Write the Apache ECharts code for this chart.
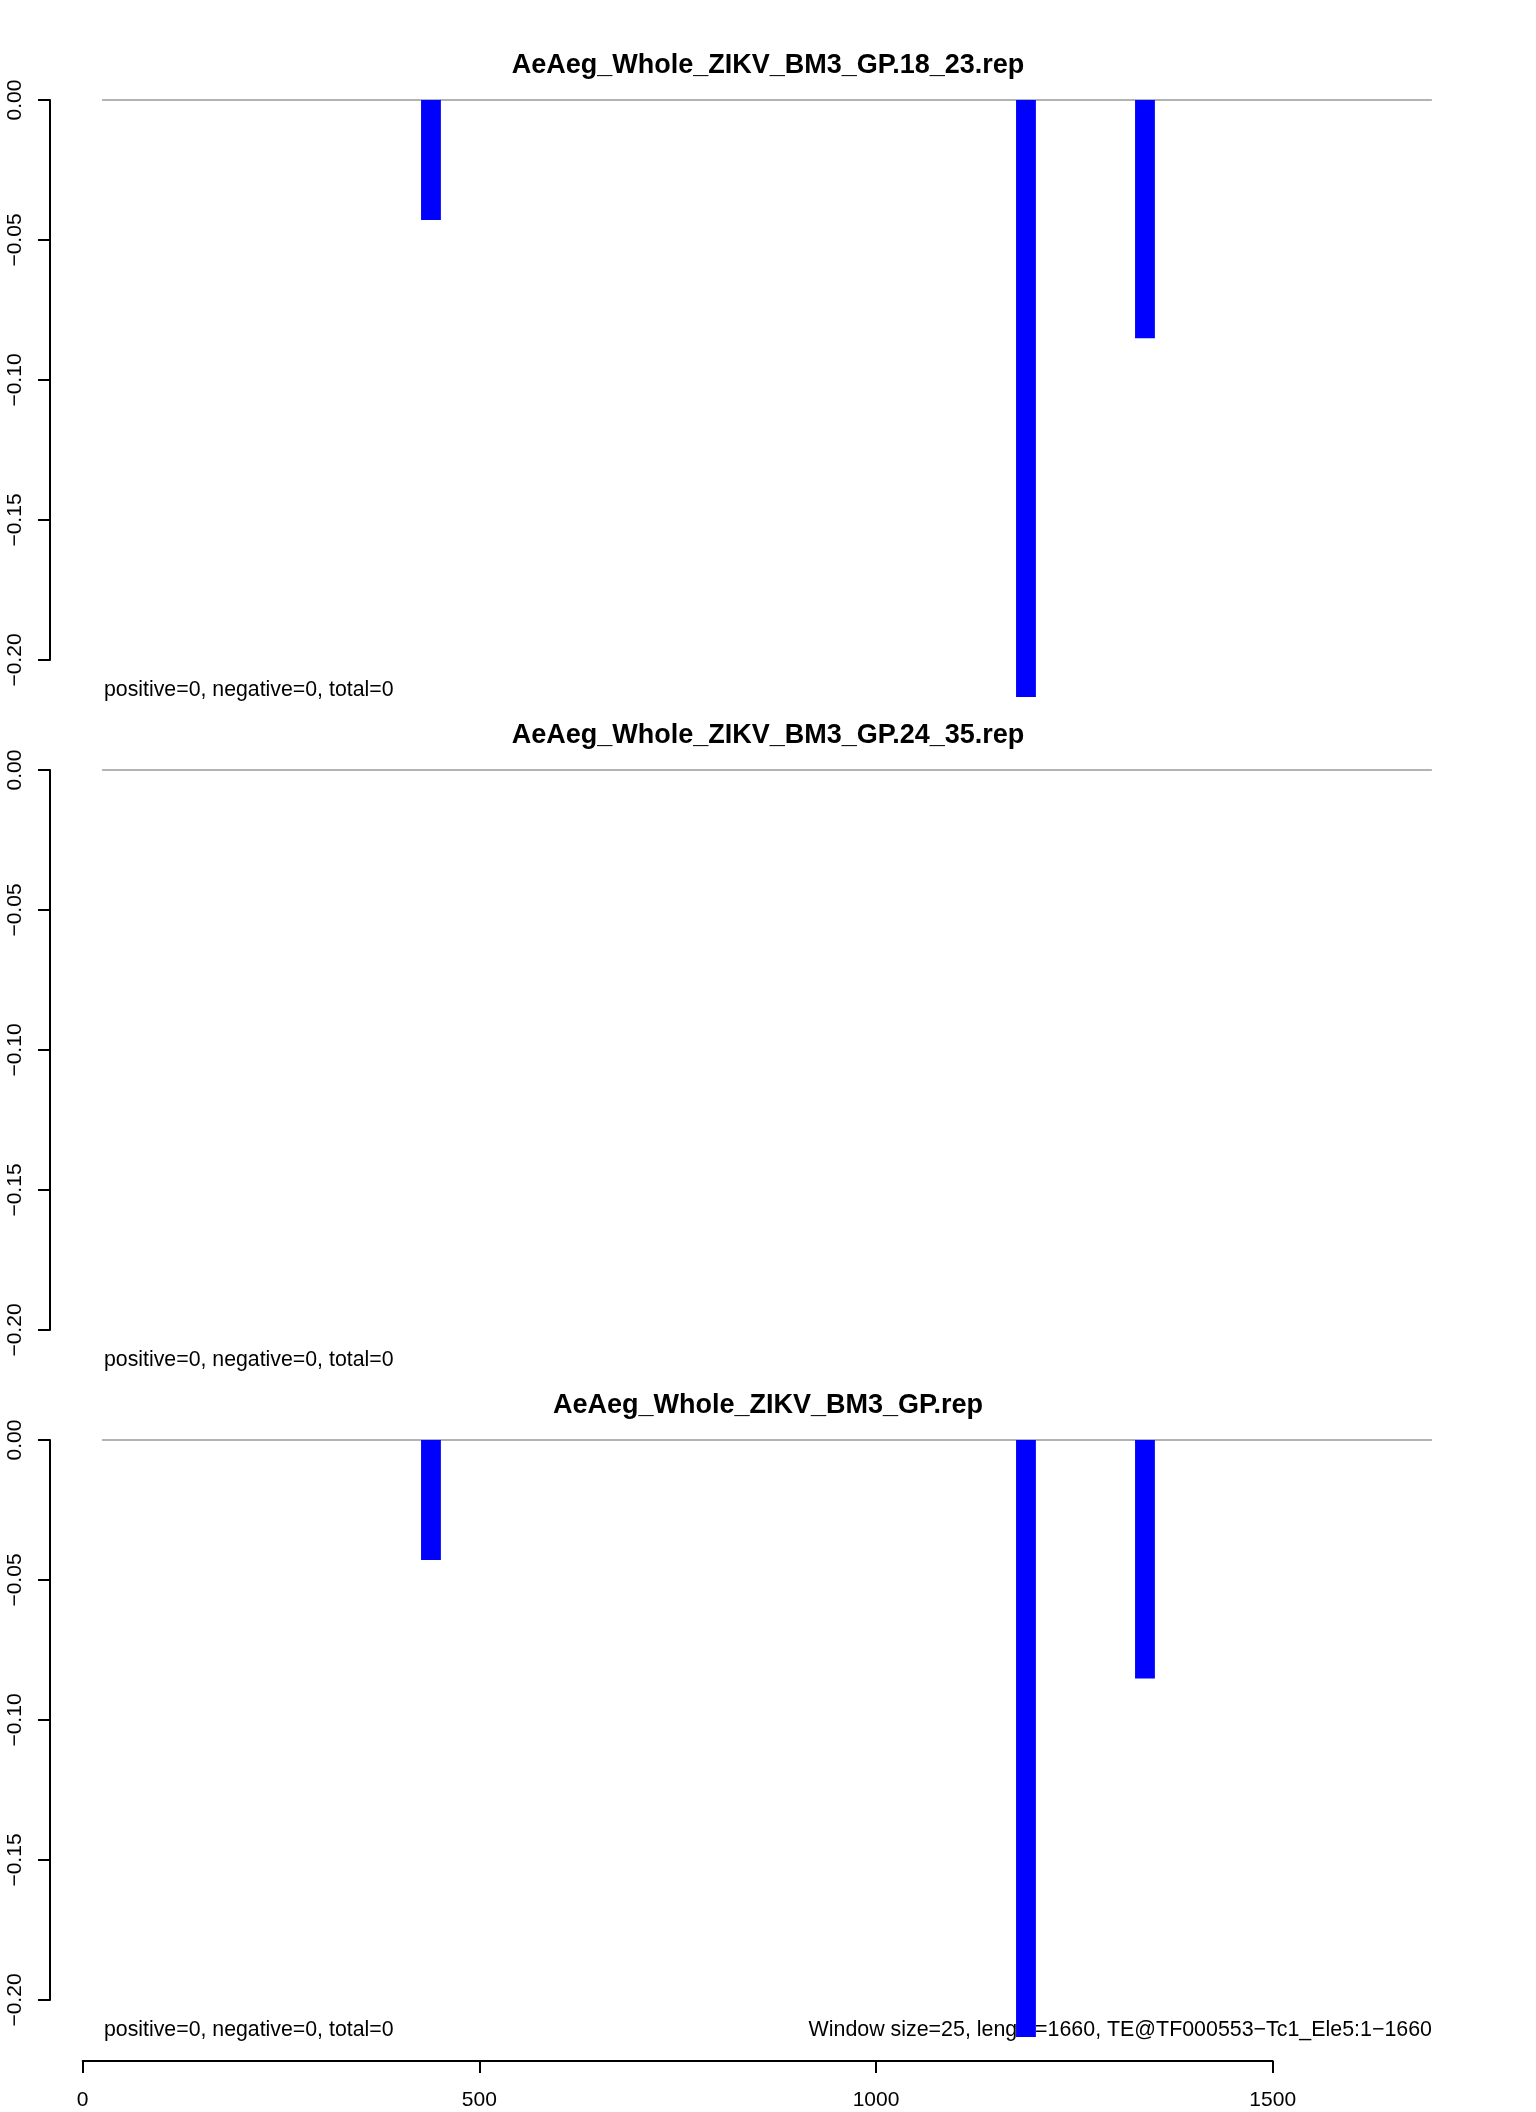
<!DOCTYPE html>
<html>
<head>
<meta charset="utf-8">
<script src="https://cdn.jsdelivr.net/npm/echarts@6/dist/echarts.min.js"></script>
<style>
html,body{margin:0;padding:0;background:#fff;}
#c{width:1536px;height:2112px;}
</style>
</head>
<body>
<div id="c"></div>
<script>
// ---- data ----
var panelTitles = [
  'AeAeg_Whole_ZIKV_BM3_GP.18_23.rep',
  'AeAeg_Whole_ZIKV_BM3_GP.24_35.rep',
  'AeAeg_Whole_ZIKV_BM3_GP.rep'
];
var windowCenters = [439, 1189, 1339];
var panel1Values = [-0.0429, -0.2132, -0.0851];
var panel2Values = [];
var panel3Values = [-0.0429, -0.2132, -0.0852];
var panelNotes = [
  'positive=0, negative=0, total=0',
  'positive=0, negative=0, total=0',
  'positive=0, negative=0, total=0'
];
var footerNote = 'Window size=25, length=1660, TE@TF000553\u2212Tc1_Ele5:1\u22121660';
var yTicks = [0, -0.05, -0.10, -0.15, -0.20];
var xTickLabels = [0, 500, 1000, 1500];
var windowSize = 25;

// ---- layout ----
var FONT = '"Liberation Sans", Arial, Helvetica, sans-serif';
var pxPerUnit = (1272.7 - 82.7) / 1500;
var x0 = 82.7;
var xMin = 25, xMax = 1700;
var zeroY = [100, 770, 1440];
var panelH = 560;
var gridLeft = x0 + xMin * pxPerUnit;
var gridW = (xMax - xMin) * pxPerUnit;

var valuesByPanel = [panel1Values, panel2Values, panel3Values];

var grids = [], xAxes = [], yAxes = [], series = [], graphics = [];

function fmtY(v) {
  var s = Math.abs(v).toFixed(2);
  return (v < -1e-9 ? '\u2212' : '') + s;
}

for (var i = 0; i < 3; i++) {
  grids.push({left: gridLeft, width: gridW, top: zeroY[i], height: panelH, containLabel: false});
  xAxes.push({
    type: 'value', gridIndex: i, min: xMin, max: xMax, position: 'top',
    axisLine: {show: true, onZero: false, lineStyle: {color: '#9a9a9a', width: 1.5}},
    axisTick: {show: false}, axisLabel: {show: false}, splitLine: {show: false}
  });
  yAxes.push({
    type: 'value', gridIndex: i, min: -0.2, max: 0, interval: 0.05,
    position: 'left', offset: gridLeft - 50,
    axisLine: {show: true, onZero: false, lineStyle: {color: '#000', width: 2}},
    axisTick: {show: true, length: 12, lineStyle: {color: '#000', width: 2}},
    axisLabel: {show: true, rotate: 90, margin: 24, color: '#000', fontSize: 21, fontFamily: FONT,
      formatter: function (v) { return fmtY(v); }},
    splitLine: {show: false}
  });
  var d = [];
  for (var k = 0; k < valuesByPanel[i].length; k++) d.push([windowCenters[k], valuesByPanel[i][k]]);
  series.push({
    type: 'bar', xAxisIndex: i, yAxisIndex: i, data: d,
    barWidth: windowSize * pxPerUnit, clip: false, z: 3,
    itemStyle: {color: '#0000ff'}, silent: true, animation: false
  });
  graphics.push({
    type: 'text', x: 768, y: zeroY[i] - 34, z: 1,
    style: {text: panelTitles[i], font: 'bold 27px ' + FONT, fill: '#000', textAlign: 'center', textVerticalAlign: 'middle'}
  });
  graphics.push({
    type: 'text', x: 104, y: zeroY[i] + 590, z: 1,
    style: {text: panelNotes[i], font: '21.3px ' + FONT, fill: '#000', textAlign: 'left', textVerticalAlign: 'middle'}
  });
}
graphics.push({
  type: 'text', x: 1432, y: zeroY[2] + 590, z: 1,
  style: {text: footerNote, font: '21.4px ' + FONT, fill: '#000', textAlign: 'right', textVerticalAlign: 'middle'}
});

// bottom position axis
grids.push({left: x0, width: 1500 * pxPerUnit, top: 2000, height: 61});
xAxes.push({
  type: 'value', gridIndex: 3, min: 0, max: 1500, interval: 500, position: 'bottom',
  axisLine: {show: true, onZero: false, lineStyle: {color: '#000', width: 2}},
  axisTick: {show: true, length: 12, lineStyle: {color: '#000', width: 2}},
  axisLabel: {show: true, margin: 29, color: '#000', fontSize: 21, fontFamily: FONT,
    formatter: function (v) { return xTickLabels.indexOf(v) >= 0 ? String(v) : ''; }},
  splitLine: {show: false}
});
yAxes.push({type: 'value', gridIndex: 3, min: 0, max: 1, show: false});
series.push({type: 'scatter', xAxisIndex: 3, yAxisIndex: 3, data: [], silent: true});

var chart = echarts.init(document.getElementById('c'), null, {renderer: 'canvas'});
chart.setOption({
  backgroundColor: '#fff',
  animation: false,
  grid: grids,
  xAxis: xAxes,
  yAxis: yAxes,
  series: series,
  graphic: graphics
});
</script>
</body>
</html>
